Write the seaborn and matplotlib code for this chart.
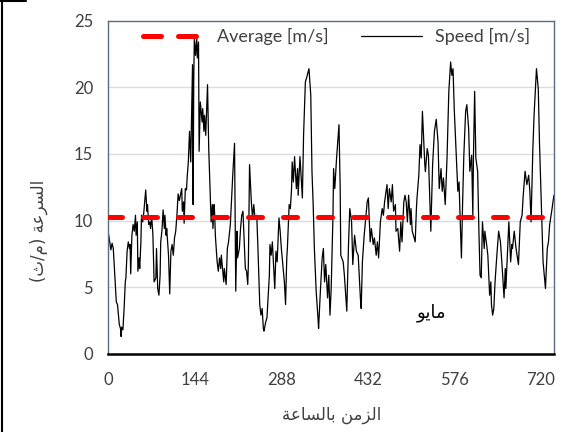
import matplotlib
matplotlib.use("Agg")
import matplotlib.pyplot as plt
import seaborn as sns
from matplotlib.lines import Line2D

# --- DATA (hourly wind speed for May) ---
hours = [
    0, 4, 6, 8, 13, 15, 18, 20, 21, 22, 24, 26, 28, 29, 31, 33, 35, 36, 37, 39, 41, 43, 45, 46, 48, 49, 51, 52, 54, 55, 57, 59,
    62, 64, 65, 67, 69, 70, 72, 74, 76, 79, 80, 82, 84, 86, 87, 89, 91, 93, 94, 96, 97, 100, 102, 104, 106, 108, 110, 112, 114, 116, 118,
    122, 123, 125, 126, 128, 130, 131, 133, 135, 137, 138, 140, 141, 142, 143, 145, 147, 148, 150, 151, 153, 156, 157, 159, 160, 162,
    165, 167, 170, 171, 173, 174, 176, 177, 178, 181, 183, 185, 187, 188, 192, 193, 196, 198, 200, 203, 207, 210, 212, 214, 215, 218,
    220, 222, 224, 228, 230, 232, 233, 235, 238, 240, 242, 244,
    247, 249, 252, 254, 256, 258, 259, 262, 264, 268, 269, 271, 273, 277, 279, 281, 284, 286, 288, 293, 295, 297, 298, 301, 303, 305,
    306, 308, 310, 313, 315, 316, 319, 323, 325, 328, 330, 334, 337, 339, 341, 343, 346, 349, 350, 353, 356, 358, 360, 362, 365, 367, 369,
    371, 374, 375, 377, 380, 384, 386, 387, 391, 393, 397, 400, 402, 405, 407, 410, 413, 416, 420, 421, 423, 426, 428, 431, 433,
    436, 438, 441, 443, 446, 448, 450, 453, 456, 458, 460, 464, 466, 468, 471, 473, 475, 478, 479, 482, 485, 487, 489, 492, 494,
    496, 498, 500, 503, 504, 506, 508, 511, 513, 514, 517, 519, 521, 523, 527, 528, 531, 533, 537, 540, 543, 546, 549, 551, 554, 556,
    558, 561, 564, 567, 570, 572, 574, 576, 580, 582, 584, 586, 588, 590, 592, 595, 597, 600, 602, 605, 607, 608, 610, 612, 615, 617, 619,
    621, 623, 626, 627, 630, 632, 635, 637, 638, 640, 642, 644, 647, 650, 653, 656, 659, 661, 662, 665, 667, 670, 672, 673,
    676, 679, 683, 686, 689, 691, 694, 697, 700, 702, 704, 707, 709, 713, 716, 718, 721, 724, 728, 731, 733, 735, 739, 742,
]
speed = [
    9.0, 7.8, 8.3, 7.9, 3.9, 3.7, 2.2, 1.9, 1.3, 2.0, 1.8, 3.4, 5.4, 5.7, 7.7, 8.4, 7.9, 8.2, 6.0, 8.9, 9.7, 9.2, 10.4, 8.9, 9.9, 6.2, 7.2, 6.4, 8.4, 10.4, 9.9, 10.7,
    12.3, 10.7, 11.2, 9.7, 9.9, 9.4, 10.3, 8.9, 5.4, 5.7, 7.9, 4.9, 4.4, 5.9, 8.4, 9.2, 10.8, 9.4, 10.4, 8.9, 9.4, 7.4, 4.5, 7.7, 8.2, 7.4, 8.7, 9.2, 10.4, 12.0, 11.5,
    12.4, 10.7, 11.4, 9.8, 12.4, 12.3, 13.2, 14.4, 16.7, 14.4, 16.7, 21.7, 11.2, 20.4, 23.7, 22.4, 23.7, 22.2, 23.4, 15.2, 18.9, 17.4, 18.4, 16.7, 17.9, 16.4,
    20.2, 15.4, 11.4, 9.9, 11.2, 9.4, 11.2, 10.4, 8.9, 6.9, 6.2, 7.2, 6.4, 7.4, 5.4, 6.4, 5.2, 7.9, 8.4, 9.7, 13.4, 15.8, 4.7, 9.2, 7.2, 7.9,
    9.4, 10.4, 10.7, 6.4, 6.2, 5.2, 6.7, 14.2, 11.4, 10.2, 11.2, 10.2,
    10.4, 7.9, 3.7, 2.9, 3.4, 1.9, 1.7, 2.4, 2.7, 5.9, 8.2, 7.4, 8.4, 4.9, 7.7, 6.9, 10.2, 9.2, 7.9, 5.4, 3.7, 7.2, 7.9, 11.2, 10.9, 12.4,
    14.4, 12.9, 14.8, 12.4, 13.9, 11.9, 14.8, 11.7, 16.4, 20.4, 20.7, 21.4, 19.4, 13.7, 11.2, 7.9, 4.7, 2.7, 1.9, 4.7, 7.2, 7.9, 5.4, 6.7, 4.2, 5.9, 2.9,
    4.9, 10.4, 13.9, 12.4, 14.7, 17.2, 12.4, 7.4, 6.9, 5.9, 3.2, 8.4, 10.9, 9.9, 6.7, 8.9, 7.7, 7.4, 3.9, 3.4, 6.9, 8.9, 9.9, 11.4, 11.7,
    8.4, 9.4, 8.2, 8.7, 7.4, 8.4, 7.2, 9.9, 10.9, 10.4, 11.4, 12.7, 10.9, 12.4, 11.4, 12.7, 10.7, 11.2, 9.2, 9.4, 7.7, 9.9, 8.4, 11.4, 11.9,
    11.4, 9.9, 11.9, 9.7, 10.9, 9.2, 8.9, 8.4, 10.9, 11.7, 13.4, 15.7, 14.7, 18.2, 14.2, 13.7, 15.4, 14.9, 9.2, 14.2, 16.7, 17.6, 15.9, 12.4, 13.9, 12.2,
    13.2, 11.2, 14.7, 19.7, 21.9, 20.9, 21.4, 18.4, 14.2, 12.2, 12.9, 9.9, 7.2, 11.4, 14.9, 18.2, 18.7, 16.9, 13.7, 14.9, 10.4, 14.7, 19.7, 14.7, 13.7, 9.4, 5.9,
    5.7, 9.9, 7.9, 9.2, 8.2, 7.4, 4.4, 5.4, 3.7, 2.9, 3.4, 5.4, 7.4, 9.2, 8.4, 6.4, 4.2, 6.4, 4.9, 7.9, 9.9, 6.9, 8.2, 7.9,
    9.2, 7.9, 6.7, 9.9, 10.4, 11.9, 13.7, 12.7, 13.4, 12.2, 9.9, 15.4, 17.9, 21.4, 19.9, 15.9, 11.4, 6.9, 4.9, 7.9, 8.4, 9.7, 10.9, 11.9,
]
assert len(hours) == len(speed)
average_speed = 10.25

x_ticks = [0, 144, 288, 432, 576, 720]
y_ticks = [0, 5, 10, 15, 20, 25]
x_label = "الزمن بالساعة"
y_label = "السرعة (م/ث)"
month_label = "مايو"


# matplotlib has no Arabic shaping, so map letters to presentation forms
# (isolated, final, initial, medial) and reverse for display
FORMS = {
    "ا": ("\ufe8d", "\ufe8e", None, None),
    "ر": ("\ufead", "\ufeae", None, None),
    "ز": ("\ufeaf", "\ufeb0", None, None),
    "ة": ("\ufe93", "\ufe94", None, None),
    "و": ("\ufeed", "\ufeee", None, None),
    "ل": ("\ufedd", "\ufede", "\ufedf", "\ufee0"),
    "س": ("\ufeb1", "\ufeb2", "\ufeb3", "\ufeb4"),
    "ع": ("\ufec9", "\ufeca", "\ufecb", "\ufecc"),
    "م": ("\ufee1", "\ufee2", "\ufee3", "\ufee4"),
    "ث": ("\ufe99", "\ufe9a", "\ufe9b", "\ufe9c"),
    "ن": ("\ufee5", "\ufee6", "\ufee7", "\ufee8"),
    "ب": ("\ufe8f", "\ufe90", "\ufe91", "\ufe92"),
    "ي": ("\ufef1", "\ufef2", "\ufef3", "\ufef4"),
}
MIRROR = {"(": ")", ")": "("}


def arabic(text):
    out = []
    for i, ch in enumerate(text):
        if ch not in FORMS:
            out.append(MIRROR.get(ch, ch))
            continue
        prev = text[i - 1] if i > 0 else ""
        nxt = text[i + 1] if i + 1 < len(text) else ""
        joins_prev = prev in FORMS and FORMS[prev][2] is not None
        joins_next = FORMS[ch][2] is not None and nxt in FORMS
        iso, fin, ini, med = FORMS[ch]
        if joins_prev and joins_next:
            out.append(med)
        elif joins_prev:
            out.append(fin)
        elif joins_next:
            out.append(ini)
        else:
            out.append(iso)
    return "".join(reversed(out))


sns.set_style("white")
plt.rcParams["font.family"] = ["Lato", "DejaVu Sans"]
text_color = "#404040"
spine_color = "#5b6b80"

fig = plt.figure(figsize=(5.71, 4.32), dpi=100)
ax = fig.add_axes([0.19, 0.181, 0.780, 0.771])

ax.axhline(average_speed, color="#ff0000", lw=3.6, dashes=(2.8, 4.2),
           dash_capstyle="round", label="Average [m/s]", zorder=3)
sns.lineplot(x=hours, y=speed, color="black", lw=0.9, label="Speed [m/s]", ax=ax, zorder=2)

ax.set_xlim(0, 742)
ax.set_ylim(0, 25)
ax.set_xticks(x_ticks)
ax.set_yticks(y_ticks)
for v in y_ticks[1:-1]:
    ax.axhline(v, color="#d9dde3", lw=1.0, zorder=0)

ax.tick_params(axis="both", direction="out", length=5, width=1, color=spine_color,
               labelsize=12, labelcolor=text_color, pad=6)
ax.tick_params(axis="x", color="black", pad=8)
for side in ["left", "top", "right"]:
    ax.spines[side].set_color(spine_color)
    ax.spines[side].set_linewidth(1.0)
ax.spines["bottom"].set_color("black")
ax.spines["bottom"].set_linewidth(1.8)

ax.set_xlabel(arabic(x_label), family="DejaVu Sans", fontsize=12, color=text_color)
ax.xaxis.set_label_coords(0.5, -0.157)
ax.set_ylabel(arabic(y_label), family="DejaVu Sans", fontsize=12, color=text_color)
ax.yaxis.set_label_coords(-0.135, 0.37)

ax.text(538, 3.1, arabic(month_label), family="DejaVu Sans", fontsize=13,
        color="black", ha="center", va="center")

leg = ax.legend(loc="center", bbox_to_anchor=(0.512, 0.952), ncol=2, frameon=False,
                handlelength=3.4, columnspacing=1.8, handletextpad=0.7,
                fontsize=13, labelcolor=text_color)
# two clear dashes in the legend sample, like the original
leg.get_lines()[0].set_dashes((3.6, 3.4))
leg.get_lines()[0].set_dash_capstyle("round")

# left / top edge of the original picture frame
fig.add_artist(Line2D([0.003, 0.003], [0, 1], transform=fig.transFigure, color="black", lw=1.5))
fig.add_artist(Line2D([0, 0.045], [0.998, 0.998], transform=fig.transFigure, color="black", lw=1.5))

fig.savefig("out.png", dpi=100)
